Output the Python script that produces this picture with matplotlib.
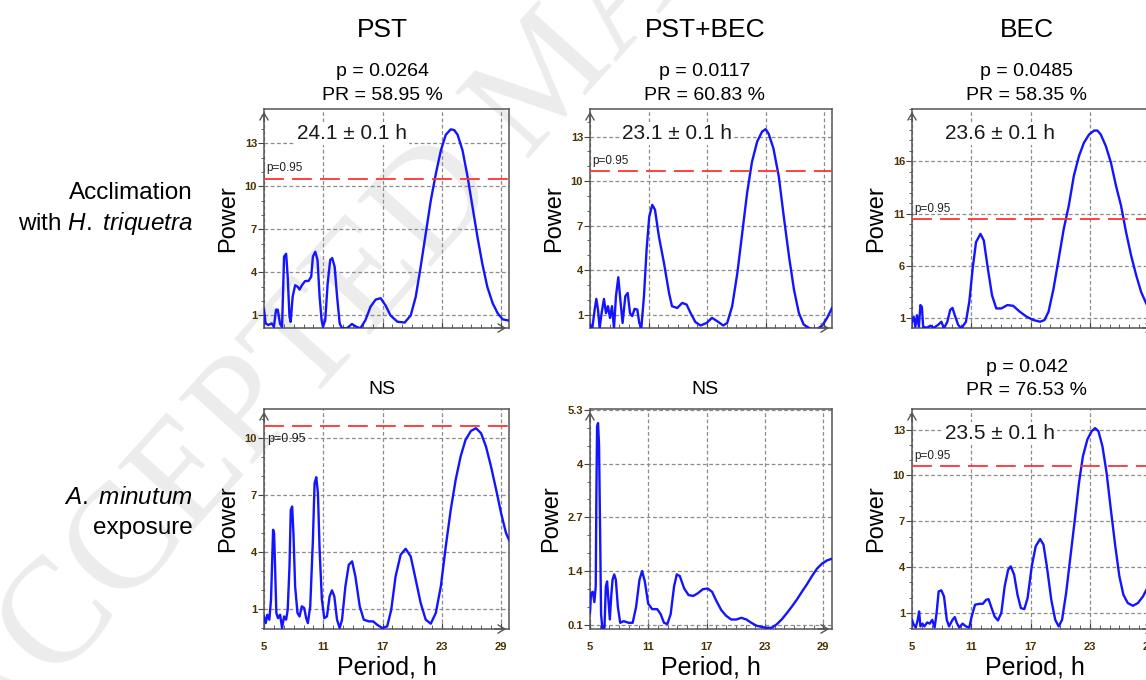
import numpy as np
import matplotlib
matplotlib.use("Agg")
import matplotlib.pyplot as plt
from matplotlib.ticker import AutoMinorLocator

# Lomb-Scargle periodograms, values
# Acclimation with H. triquetra
pst_acc_period = [5.0, 5.17, 5.44, 5.78, 6.0, 6.22, 6.39, 6.63, 6.83, 7.03, 7.24, 7.4, 7.58, 7.7, 7.9,
                  8.15, 8.4, 8.6, 8.83, 9.17, 9.5, 9.78, 9.95, 10.19, 10.42, 10.63, 10.83, 10.97, 11.2,
                  11.44, 11.7, 11.9, 12.15, 12.4, 12.66, 12.9, 13.4, 13.9, 14.36, 14.76, 15.27, 15.78,
                  16.3, 16.8, 17.3, 17.8, 18.5, 19.24, 19.85, 20.36, 20.86, 21.37, 21.88, 22.4, 22.9,
                  23.4, 23.9, 24.25, 24.6, 25.1, 25.6, 26.1, 26.6, 27.1, 27.6, 28.15, 28.66, 29.17, 29.85]
pst_acc_power = [1.4, 0.44, 0.33, 0.44, 0.2, 1.4, 1.4, 0.4, 0.2, 5.1, 5.3, 3.7, 0.9, 0.55, 2.3,
                 3.1, 3.0, 2.8, 3.1, 3.4, 3.4, 3.7, 5.1, 5.44, 4.86, 2.3, 0.67, 0.2, 0.67,
                 3.2, 4.86, 5.0, 4.4, 2.3, 0.44, 0.1, 0.1, 0.4, 0.2, 0.1, 0.67, 1.6,
                 2.1, 2.2, 1.7, 1.0, 0.56, 0.5, 1.0, 2.3, 4.4, 6.7, 9.0, 10.9, 12.5,
                 13.6, 13.98, 13.93, 13.6, 12.5, 10.7, 8.6, 6.5, 4.6, 3.0, 1.84, 1.14, 0.72, 0.63]

mix_acc_period = [5.0, 5.24, 5.48, 5.65, 5.82, 5.99, 6.19, 6.43, 6.64, 6.84, 7.05, 7.25, 7.46, 7.66, 7.9,
                  8.14, 8.34, 8.62, 8.86, 9.1, 9.33, 9.57, 9.85, 10.05, 10.26, 10.53, 10.8, 11.07, 11.38,
                  11.66, 12.06, 12.58, 13.1, 13.4, 13.94, 14.45, 14.9, 15.3, 15.8, 16.33, 16.95, 17.5,
                  18.04, 18.65, 19.06, 19.57, 20.1, 20.6, 21.1, 21.6, 22.13, 22.64, 23.0, 23.3, 23.8,
                  24.35, 24.86, 25.4, 25.9, 26.4, 26.9, 27.6, 28.3, 28.8, 29.3, 29.8]
mix_acc_power = [0.33, 0.1, 1.34, 2.06, 1.34, 0.1, 1.1, 2.06, 1.1, 1.57, 0.78, 1.57, 0.1, 2.24, 3.52,
                 1.79, 0.44, 2.24, 2.46, 1.1, 0.9, 1.39, 1.34, 0.44, 0.1, 2.24, 5.38, 7.6, 8.4,
                 8.07, 6.27, 4.48, 2.46, 1.57, 1.45, 1.79, 1.68, 1.12, 0.5, 0.27, 0.44, 0.78,
                 0.56, 0.27, 0.44, 1.57, 3.8, 6.5, 9.2, 11.3, 12.66, 13.34, 13.5, 13.2, 12.2,
                 10.3, 7.6, 4.9, 2.7, 1.12, 0.33, 0.04, 0.04, 0.27, 0.78, 1.45]

bec_acc_period = [5.0, 5.17, 5.34, 5.5, 5.7, 5.85, 6.0, 6.13, 6.47, 6.88, 7.2, 7.63, 7.97, 8.24, 8.58,
                  8.86, 9.1, 9.33, 9.68, 10.0, 10.46, 10.8, 11.14, 11.48, 11.93, 12.27, 12.68, 13.1,
                  13.53, 14.04, 14.66, 15.24, 15.92, 16.6, 17.29, 17.97, 18.41, 18.82, 19.33, 19.85,
                  20.36, 20.87, 21.38, 21.9, 22.4, 22.92, 23.43, 23.77, 24.11, 24.62, 25.14, 25.65,
                  26.16, 26.67, 27.18, 27.7, 28.2, 28.72, 29.0, 29.5, 29.9]
bec_acc_power = [0.68, 1.16, 0.2, 1.3, 0.2, 2.27, 2.1, 0.2, 0.1, 0.3, 0.1, 0.37, 0.68, 0.05, 0.68,
                 1.8, 2.0, 1.3, 0.37, 0.05, 0.68, 2.6, 5.75, 8.28, 9.07, 8.44, 5.75, 3.2,
                 1.95, 1.95, 2.27, 2.2, 1.63, 1.16, 0.84, 0.68, 0.84, 1.63, 3.85, 6.7,
                 9.54, 11.76, 14.6, 16.5, 17.77, 18.56, 18.94, 18.94, 18.56, 17.46, 15.87, 13.66,
                 11.76, 9.23, 7.0, 5.1, 3.5, 2.4, 1.95, 1.35, 1.0]

# A. minutum exposure
pst_exp_period = [5.0, 5.17, 5.34, 5.54, 5.71, 5.81, 5.92, 6.02, 6.12, 6.25, 6.42, 6.63, 6.83, 7.03, 7.24,
                  7.4, 7.58, 7.71, 7.85, 7.98, 8.15, 8.39, 8.6, 8.83, 9.07, 9.27, 9.44, 9.68, 9.95,
                  10.12, 10.29, 10.46, 10.63, 10.86, 11.1, 11.37, 11.64, 11.88, 12.12, 12.39, 12.66,
                  12.9, 13.24, 13.58, 13.92, 14.25, 14.69, 15.1, 15.61, 16.05, 16.46, 16.97, 17.47,
                  17.88, 18.32, 18.83, 19.34, 19.85, 20.36, 20.86, 21.37, 21.88, 22.39, 22.9, 23.4,
                  23.9, 24.4, 24.9, 25.4, 25.95, 26.46, 26.97, 27.47, 27.98, 28.5, 29.0, 29.5, 29.95]
pst_exp_power = [0.61, 0.26, 0.7, 0.44, 1.49, 3.23, 5.16, 4.98, 3.23, 0.79, 0.52, 0.7, 0.0, 0.61, 0.44,
                 0.96, 3.23, 6.2, 6.38, 4.98, 2.19, 0.79, 0.61, 1.14, 1.05, 0.52, 0.26, 1.14, 4.63,
                 7.6, 7.92, 7.08, 4.1, 1.49, 0.52, 0.61, 1.66, 1.98, 1.66, 0.44, 0.0,
                 0.44, 2.19, 3.32, 3.5, 2.71, 1.14, 0.44, 0.35, 0.35, 0.17, 0.0, 0.09,
                 0.96, 2.71, 3.85, 4.16, 3.76, 2.54, 1.31, 0.44, 0.23, 0.79, 2.19, 4.28,
                 6.2, 7.78, 9.0, 9.88, 10.35, 10.49, 10.23, 9.53, 8.48, 7.26, 6.03, 4.98, 4.46]

mix_exp_period = [5.0, 5.1, 5.28, 5.45, 5.59, 5.66, 5.73, 5.83, 5.93, 6.04, 6.14, 6.28, 6.49, 6.63, 6.76,
                  6.9, 7.04, 7.18, 7.32, 7.49, 7.66, 7.87, 8.11, 8.46, 8.98, 9.39, 9.74, 10.09, 10.36,
                  10.64, 10.99, 11.4, 11.92, 12.27, 12.61, 12.96, 13.3, 13.65, 13.93, 14.24, 14.69,
                  15.14, 15.62, 16.07, 16.6, 17.1, 17.56, 17.98, 18.5, 19.0, 19.53, 20.05, 20.57,
                  21.09, 21.6, 22.13, 22.65, 23.17, 23.7, 24.2, 24.72, 25.24, 25.76, 26.28, 26.8,
                  27.32, 27.84, 28.36, 28.87, 29.4, 29.9]
mix_exp_power = [0.4, 0.86, 0.9, 0.65, 1.03, 3.36, 4.9, 4.98, 4.44, 2.36, 0.36, 0.0, 0.03, 1.03, 1.15,
                 0.69, 0.23, 0.78, 1.19, 1.32, 1.19, 0.53, 0.15, 0.19, 0.15, 0.15, 0.53, 1.19, 1.4,
                 1.15, 0.61, 0.48, 0.48, 0.36, 0.15, 0.12, 0.36, 1.03, 1.32, 1.28, 0.98,
                 0.82, 0.8, 0.86, 0.96, 0.98, 0.9, 0.69, 0.46, 0.32, 0.23, 0.23, 0.27,
                 0.23, 0.15, 0.08, 0.05, 0.03, 0.03, 0.11, 0.23, 0.38, 0.54, 0.71, 0.9,
                 1.08, 1.28, 1.46, 1.58, 1.66, 1.7]

bec_exp_period = [5.0, 5.17, 5.38, 5.58, 5.72, 5.85, 6.06, 6.26, 6.54, 6.8, 7.05, 7.29, 7.49, 7.7, 7.97,
                  8.24, 8.52, 8.75, 9.1, 9.33, 9.54, 9.78, 10.12, 10.46, 10.8, 11.04, 11.38, 11.83,
                  12.17, 12.5, 12.75, 13.0, 13.36, 13.7, 14.04, 14.38, 14.73, 15.0, 15.34, 15.68,
                  16.02, 16.37, 16.7, 17.12, 17.52, 17.97, 18.31, 18.65, 19.1, 19.5, 19.85, 20.19,
                  20.6, 21.04, 21.48, 21.9, 22.3, 22.75, 23.19, 23.53, 23.87, 24.28, 24.7, 25.13,
                  25.58, 25.99, 26.4, 26.84, 27.36, 27.87, 28.38, 28.9, 29.3, 29.8]
bec_exp_power = [0.55, 0.23, 0.05, 0.55, 1.1, 0.12, 0.3, 0.12, 0.38, 0.3, 0.55, 0.05, 1.0, 2.41, 2.48,
                 2.08, 0.55, 0.12, 0.55, 0.73, 0.34, 0.05, 0.3, 0.12, 0.05, 0.77, 1.54, 1.6,
                 1.6, 1.86, 1.9, 1.43, 0.77, 0.51, 1.0, 2.74, 3.83, 4.05, 3.5, 2.19,
                 1.32, 1.25, 1.97, 4.05, 5.36, 5.84, 5.47, 4.05, 1.86, 0.55, 0.12, 0.55,
                 2.3, 4.7, 7.1, 9.5, 11.25, 12.35, 12.9, 13.1, 12.9, 11.9, 10.16, 7.76,
                 5.36, 3.4, 2.19, 1.65, 1.47, 1.65, 2.08, 2.74, 3.3, 3.9]

col_titles = ["PST", "PST+BEC", "BEC"]
row_labels = [["Acclimation", r"with $\it{H.}$ $\it{triquetra}$"], [r"$\it{A.}$ $\it{minutum}$", "exposure"]]
stats = [[["p = 0.0264", "PR = 58.95 %"], ["p = 0.0117", "PR = 60.83 %"], ["p = 0.0485", "PR = 58.35 %"]],
         [["NS"], ["NS"], ["p = 0.042", "PR = 76.53 %"]]]
peak_labels = [["24.1 ± 0.1 h", "23.1 ± 0.1 h", "23.6 ± 0.1 h"], [None, None, "23.5 ± 0.1 h"]]
thresholds = [[10.53, 10.65, 10.5], [10.63, None, 10.59]]
yticks = [[[1, 4, 7, 10, 13], [1, 4, 7, 10, 13], [1, 6, 11, 16]],
          [[1, 4, 7, 10], [0.1, 1.4, 2.7, 4, 5.3], [1, 4, 7, 10, 13]]]
ylims = [[(0.12, 15.4), (0.1, 14.86), (0.08, 21.0)],
         [(-0.05, 11.5), (0.0, 5.32), (-0.05, 14.35)]]
curves = [[(pst_acc_period, pst_acc_power), (mix_acc_period, mix_acc_power), (bec_acc_period, bec_acc_power)],
          [(pst_exp_period, pst_exp_power), (mix_exp_period, mix_exp_power), (bec_exp_period, bec_exp_power)]]
xticks = [5, 11, 17, 23, 29]

W, H = 1146, 680
fig = plt.figure(figsize=(W / 100, H / 100), dpi=100)
plt.rcParams['font.family'] = ['Liberation Sans', 'DejaVu Sans']
plt.rcParams['mathtext.fontset'] = 'custom'
plt.rcParams['mathtext.it'] = 'Liberation Sans:italic'
plt.rcParams['mathtext.rm'] = 'Liberation Sans'


def fx(px):
    return px / W


def fy(py):
    return 1 - py / H


# faint watermark behind everything
fig.text(fx(-18), fy(765), "ACCEPTED MANUSCRIPT", fontsize=108, family='Liberation Serif',
         rotation=48, rotation_mode='anchor', ha='left', va='baseline', color='#ececec',
         zorder=-5)

col_left = [264, 590, 912]
col_width = [245, 242, 245]
row_top = [109, 409]
row_bottom = [328, 629]
tick_col = '#4a3200'

for r in range(2):
    for c in range(3):
        ax = fig.add_axes([fx(col_left[c]), fy(row_bottom[r]), col_width[c] / W,
                           (row_bottom[r] - row_top[r]) / H])
        ax.set_facecolor('none')
        xs, ys = curves[r][c]
        ax.plot(xs, ys, color='#1414ff', lw=1.7, zorder=3)
        ax.set_xlim(5, 29.9 if (r, c) == (1, 1) else 29.8)
        ax.set_ylim(*ylims[r][c])
        ax.set_xticks(xticks)
        ax.set_yticks(yticks[r][c])
        ax.set_yticklabels(['%g' % v for v in yticks[r][c]])
        ax.xaxis.set_minor_locator(AutoMinorLocator(6))
        ax.yaxis.set_minor_locator(AutoMinorLocator(5 if (r, c) == (0, 2) else 3))
        ax.grid(True, which='major', color='#8c8c8c', lw=0.9, ls=(0, (3, 2)))
        ax.tick_params(axis='x', which='both', direction='in', color='#444444', labelsize=8,
                       labelcolor=tick_col, pad=9)
        ax.tick_params(axis='x', which='major', length=4)
        ax.tick_params(axis='x', which='minor', length=3)
        ax.tick_params(axis='y', which='both', direction='out', color='#444444', labelsize=8,
                       labelcolor=tick_col, pad=1)
        ax.tick_params(axis='y', which='major', length=4)
        ax.tick_params(axis='y', which='minor', length=2)
        for lab in ax.get_xticklabels() + ax.get_yticklabels():
            lab.set_fontweight('bold')
        if r == 0:
            ax.set_xticklabels([])
        else:
            ax.set_xlabel("Period, h", fontsize=18, labelpad=3)
        for s in ax.spines.values():
            s.set_color('#555555')
            s.set_linewidth(1.1)
        ax.set_ylabel("Power", fontsize=17, labelpad=4)

        # axis arrow heads
        ax.annotate('', xy=(0, 1.0), xytext=(0, 0.93), xycoords='axes fraction',
                    arrowprops=dict(arrowstyle='->,head_length=0.5,head_width=0.3',
                                    color='#555555', lw=1.0), annotation_clip=False)
        ax.annotate('', xy=(1.0, 0), xytext=(0.93, 0), xycoords='axes fraction',
                    arrowprops=dict(arrowstyle='->,head_length=0.5,head_width=0.3',
                                    color='#555555', lw=1.0), annotation_clip=False)

        thr = thresholds[r][c]
        if thr is not None:
            ax.axhline(thr, color='#ff3333', lw=1.3, ls=(0, (11, 4.5)), zorder=4)
            if (r, c) == (1, 0):
                ax.text(5.35, 9.95, "p=0.95", fontsize=9, va='center', ha='left', color='#222222')
            else:
                ax.text(5.25, thr + 0.02 * (ylims[r][c][1] - ylims[r][c][0]), "p=0.95",
                        fontsize=8.5, va='bottom', ha='left', color='#222222')
        if peak_labels[r][c]:
            ax.text(0.36, 0.89, peak_labels[r][c], transform=ax.transAxes, fontsize=15,
                    ha='center', va='center', color='#1a1a1a', zorder=5,
                    bbox=dict(facecolor='white', edgecolor='none', pad=1.5))

# column titles and statistics
col_center = [382, 705, 1027]
for c in range(3):
    fig.text(fx(col_center[c]), fy(30), col_titles[c], fontsize=19, ha='center', va='center')
    fig.text(fx(col_center[c]), fy(72), stats[0][c][0], fontsize=14, ha='center', va='center')
    fig.text(fx(col_center[c]), fy(96), stats[0][c][1], fontsize=14, ha='center', va='center')
for c in range(3):
    if len(stats[1][c]) == 1:
        fig.text(fx(col_center[c]), fy(390), stats[1][c][0], fontsize=14, ha='center', va='center')
    else:
        fig.text(fx(col_center[c]), fy(367), stats[1][c][0], fontsize=14, ha='center', va='center')
        fig.text(fx(col_center[c]), fy(391), stats[1][c][1], fontsize=14, ha='center', va='center')

# row labels
fig.text(fx(193), fy(193), row_labels[0][0], fontsize=17.5, ha='right', va='center')
fig.text(fx(193), fy(224), row_labels[0][1], fontsize=17.5, ha='right', va='center')
fig.text(fx(193), fy(498), row_labels[1][0], fontsize=17.5, ha='right', va='center')
fig.text(fx(193), fy(528), row_labels[1][1], fontsize=17.5, ha='right', va='center')

fig.savefig("out.png", dpi=100)
